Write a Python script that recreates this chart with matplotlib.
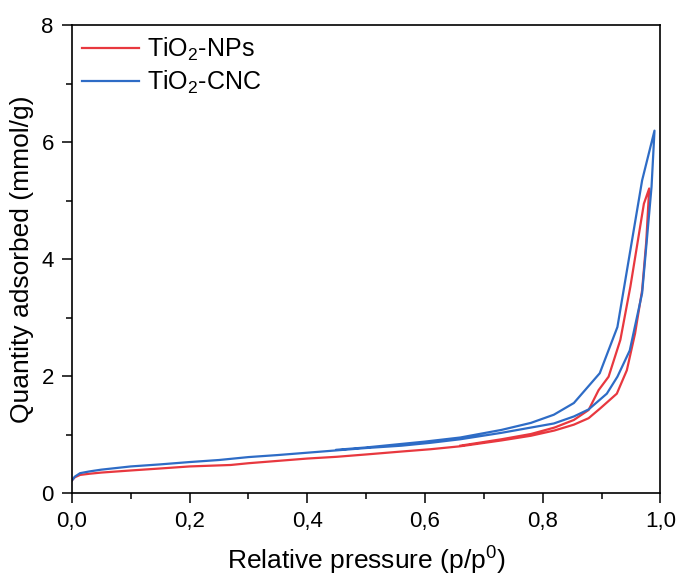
import matplotlib
matplotlib.use('Agg')
import matplotlib.pyplot as plt
from matplotlib.ticker import MultipleLocator, FuncFormatter

plt.rcParams['font.family'] = ['Liberation Sans', 'DejaVu Sans']
plt.rcParams['mathtext.fontset'] = 'custom'
plt.rcParams['mathtext.rm'] = 'Liberation Sans'

# TiO2-NPs: adsorption then desorption branch
nps_ads_p = [0.0005, 0.005, 0.014, 0.03, 0.05, 0.1, 0.15, 0.2, 0.27, 0.3, 0.35, 0.4,
             0.45, 0.5, 0.56, 0.61, 0.66, 0.73, 0.78, 0.82, 0.853, 0.878, 0.898,
             0.926, 0.943, 0.957, 0.969, 0.976, 0.981]
nps_ads_q = [0.22, 0.27, 0.31, 0.33, 0.35, 0.386, 0.42, 0.455, 0.48, 0.51, 0.55, 0.59,
             0.62, 0.66, 0.71, 0.75, 0.80, 0.90, 0.98, 1.07, 1.17, 1.28, 1.45,
             1.70, 2.10, 2.73, 3.47, 4.30, 5.21]
nps_des_p = [0.981, 0.972, 0.949, 0.932, 0.912, 0.895, 0.878, 0.853, 0.82, 0.78, 0.73, 0.66]
nps_des_q = [5.21, 4.95, 3.53, 2.62, 1.99, 1.76, 1.42, 1.25, 1.12, 1.01, 0.92, 0.81]

# TiO2-CNC
cnc_ads_p = [0.0005, 0.005, 0.014, 0.03, 0.05, 0.1, 0.15, 0.2, 0.25, 0.3, 0.35, 0.4,
             0.45, 0.5, 0.56, 0.61, 0.66, 0.73, 0.78, 0.819, 0.853, 0.878, 0.909,
             0.927, 0.948, 0.969, 0.985, 0.99]
cnc_ads_q = [0.22, 0.28, 0.34, 0.37, 0.40, 0.455, 0.49, 0.53, 0.565, 0.615, 0.65, 0.69,
             0.73, 0.77, 0.81, 0.86, 0.92, 1.03, 1.12, 1.19, 1.31, 1.43, 1.70,
             1.99, 2.44, 3.42, 5.24, 6.20]
cnc_des_p = [0.99, 0.969, 0.927, 0.897, 0.853, 0.819, 0.78, 0.73, 0.66, 0.6, 0.5, 0.45]
cnc_des_q = [6.20, 5.35, 2.84, 2.05, 1.54, 1.34, 1.20, 1.08, 0.95, 0.88, 0.78, 0.74]

red = '#E8383F'
blue = '#2E6CC6'

fig = plt.figure(figsize=(6.78, 5.78), dpi=100)
ax = fig.add_axes([0.106, 0.147, 0.868, 0.809])

ax.plot(nps_ads_p + nps_des_p, nps_ads_q + nps_des_q, color=red, lw=1.6, label='TiO$_2$-NPs')
ax.plot(cnc_ads_p + cnc_des_p, cnc_ads_q + cnc_des_q, color=blue, lw=1.6, label='TiO$_2$-CNC')

ax.set_xlim(0, 1.0)
ax.set_ylim(0, 8)
ax.xaxis.set_major_locator(MultipleLocator(0.2))
ax.xaxis.set_minor_locator(MultipleLocator(0.1))
ax.yaxis.set_major_locator(MultipleLocator(2))
ax.yaxis.set_minor_locator(MultipleLocator(1))
ax.xaxis.set_major_formatter(FuncFormatter(lambda v, pos: f'{v:.1f}'.replace('.', ',')))

ax.tick_params(which='major', direction='out', length=7, width=1.1, labelsize=16, pad=6)
ax.tick_params(which='minor', direction='out', length=4, width=1.1)
for s in ax.spines.values():
    s.set_linewidth(1.2)

ax.set_xlabel('Relative pressure (p/p$^0$)', fontsize=19, labelpad=8)
ax.set_ylabel('Quantity adsorbed (mmol/g)', fontsize=19, labelpad=5)

ax.legend(loc='upper left', frameon=False, fontsize=18, handlelength=2.3,
          handletextpad=0.3, labelspacing=0.25, borderaxespad=0.0)

fig.savefig('out.png', dpi=100)
